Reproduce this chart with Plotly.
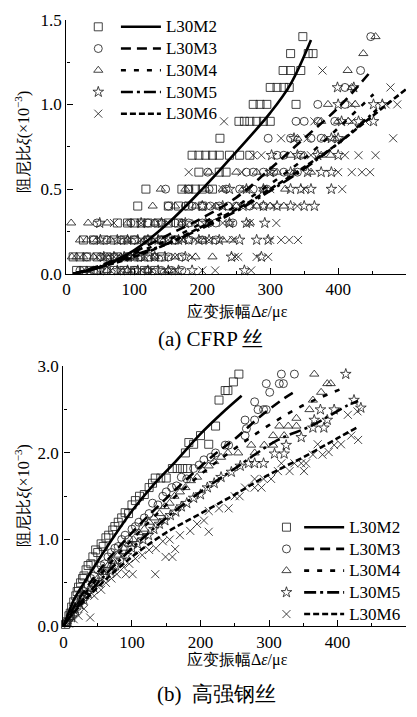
import plotly.graph_objects as go

# ---------------- data: (a) CFRP wire ----------------
top_m2 = [(15,0.02),(25,0.02),(35,0.02),(45,0.02),(55,0.02),(70,0.02),(85,0.02),(100,0.02),(115,0.02),(130,0.02),
          (10,0.1),(20,0.1),(30,0.1),(45,0.1),(60,0.1),(75,0.1),(90,0.1),(105,0.1),(120,0.1),(140,0.1),
          (25,0.2),(40,0.2),(55,0.2),(70,0.2),(85,0.2),(100,0.2),(120,0.2),(140,0.2),(160,0.2),
          (75,0.3),(90,0.3),(100,0.3),(110,0.3),(120,0.3),(135,0.3),(150,0.3),(165,0.3),
          (105,0.4),(150,0.4),(165,0.4),(180,0.4),(200,0.4),
          (117,0.5),(170,0.5),(180,0.5),(190,0.5),(200,0.5),(215,0.5),
          (195,0.6),(225,0.6),(235,0.6),
          (185,0.7),(195,0.7),(205,0.7),(215,0.7),(225,0.7),(240,0.7),(255,0.7),(270,0.7),
          (226,0.8),
          (254,0.9),(262,0.9),(270,0.9),(280,0.9),(290,0.9),(300,0.9),
          (275,1.0),(285,1.0),(295,1.0),(338,1.0),
          (300,1.1),(310,1.1),(320,1.1),(328,1.1),
          (319,1.2),(330,1.2),(345,1.2),
          (330,1.3),(356,1.3),(363,1.3),
          (348,1.4)]
top_m3 = [(20,0.02),(40,0.02),(60,0.02),(80,0.02),(100,0.02),(120,0.02),(140,0.02),(155,0.02),(170,0.02),
          (30,0.1),(50,0.1),(70,0.1),(90,0.1),(110,0.1),(130,0.1),(150,0.1),(170,0.1),
          (40,0.2),(60,0.2),(80,0.2),(100,0.2),(120,0.2),(140,0.2),(160,0.2),(180,0.2),(200,0.2),(220,0.2),
          (45,0.3),(95,0.3),(120,0.3),(130,0.3),(140,0.3),(160,0.3),(170,0.3),(180,0.3),(200,0.3),(210,0.3),
          (220,0.3),(245,0.3),
          (150,0.4),(175,0.4),(185,0.4),(200,0.4),(212,0.4),(225,0.4),(238,0.4),(250,0.4),(270,0.4),(290,0.4),
          (146,0.5),(180,0.5),(210,0.5),(235,0.5),(255,0.5),(275,0.5),(295,0.5),
          (208,0.6),(265,0.6),(275,0.6),(290,0.6),(305,0.6),(320,0.6),(340,0.6),
          (310,0.7),(320,0.7),(345,0.7),
          (297,0.8),(330,0.8),(360,0.8),(375,0.8),
          (338,0.9),(350,0.9),(370,0.9),(395,0.9),
          (370,1.0),(410,1.0),(410,1.1),(433,1.2),(448,1.4)]
top_m4 = [(30,0.02),(60,0.02),(90,0.02),(120,0.02),(150,0.02),
          (8,0.1),(15,0.1),(25,0.1),(40,0.1),(60,0.1),(80,0.1),(100,0.1),(130,0.1),(160,0.1),(190,0.1),(215,0.1),
          (20,0.2),(30,0.2),(45,0.2),(65,0.2),(90,0.2),(115,0.2),(140,0.2),(170,0.2),(200,0.2),(230,0.2),(243,0.2),
          (7,0.3),(32,0.3),(60,0.3),(90,0.3),(130,0.3),(170,0.3),(210,0.3),(240,0.3),(270,0.3),
          (127,0.4),(160,0.4),(190,0.4),(220,0.4),(250,0.4),(280,0.4),(300,0.4),(320,0.4),
          (139,0.5),(175,0.5),(205,0.5),(230,0.5),(260,0.5),(290,0.5),(322,0.5),
          (210,0.6),(250,0.6),(280,0.6),(310,0.6),(335,0.6),(360,0.6),
          (330,0.7),(350,0.7),(375,0.7),(389,0.7),
          (340,0.8),(380,0.8),(395,0.8),
          (375,0.9),(400,0.9),(415,0.9),
          (385,1.0),(425,1.0),(420,1.1),(414,1.2),(437,1.3),(455,1.4)]
top_m5 = [(50,0.02),(75,0.02),(90,0.02),(105,0.02),(120,0.02),(135,0.02),(150,0.02),(165,0.02),(185,0.02),(262,0.02),
          (55,0.1),(70,0.1),(85,0.1),(100,0.1),(115,0.1),(130,0.1),(145,0.1),(175,0.1),(243,0.1),(287,0.1),
          (50,0.2),(75,0.2),(90,0.2),(105,0.2),(120,0.2),(135,0.2),(150,0.2),(165,0.2),(180,0.2),(195,0.2),
          (210,0.2),(225,0.2),(255,0.2),(280,0.2),(297,0.2),
          (49,0.3),(110,0.3),(140,0.3),(175,0.3),(205,0.3),(240,0.3),(265,0.3),(292,0.3),
          (200,0.4),(230,0.4),(260,0.4),(290,0.4),(310,0.4),(330,0.4),(350,0.4),(365,0.4),
          (240,0.5),(265,0.5),(290,0.5),(330,0.5),(345,0.5),(360,0.5),(390,0.5),
          (300,0.6),(330,0.6),(355,0.6),(375,0.6),(390,0.6),
          (302,0.7),(340,0.7),(370,0.7),(400,0.7),
          (335,0.8),(390,0.8),(400,0.8),
          (405,0.9),(430,0.9),(452,0.9),
          (400,1.0),(452,1.0),(465,1.0),(399,1.1),(423,1.1)]
top_m6 = [(35,0.02),(65,0.02),(80,0.02),(95,0.02),(110,0.02),(125,0.02),(145,0.02),(160,0.02),(200,0.02),(219,0.02),(272,0.02),
          (45,0.1),(58,0.1),(70,0.1),(85,0.1),(100,0.1),(115,0.1),(130,0.1),(160,0.1),(185,0.1),(248,0.1),(253,0.1),
          (280,0.1),(297,0.1),
          (90,0.2),(110,0.2),(130,0.2),(150,0.2),(170,0.2),(190,0.2),(210,0.2),(245,0.2),(300,0.2),(316,0.2),(328,0.2),(341,0.2),
          (70,0.3),(110,0.3),(150,0.3),(190,0.3),(230,0.3),(270,0.3),(309,0.3),
          (215,0.4),(245,0.4),(275,0.4),(305,0.4),(340,0.4),
          (230,0.5),(270,0.5),(300,0.5),(350,0.5),(406,0.5),
          (180,0.6),(258,0.6),(300,0.6),(400,0.6),(420,0.6),(435,0.6),(447,0.6),
          (275,0.7),(287,0.7),(360,0.7),(410,0.7),(430,0.7),(455,0.7),
          (316,0.8),(355,0.8),(481,0.8),
          (232,0.9),(365,0.9),(420,0.9),(440,0.9),
          (420,1.0),(470,1.0),(487,1.0),(477,1.1),(377,1.2)]

top_fit_m2_x = [10, 50, 100, 150, 200, 250, 300, 330, 360]
top_fit_m2_y = [0.0, 0.04, 0.14, 0.30, 0.50, 0.72, 0.95, 1.12, 1.38]
top_fit_m3_x = [10, 50, 100, 150, 200, 250, 300, 350, 400, 447]
top_fit_m3_y = [0.0, 0.05, 0.13, 0.23, 0.33, 0.45, 0.62, 0.80, 0.98, 1.19]
top_fit_m4_x = [10, 50, 100, 150, 200, 250, 300, 350, 400, 452]
top_fit_m4_y = [0.0, 0.04, 0.12, 0.20, 0.30, 0.40, 0.53, 0.68, 0.86, 1.06]
top_fit_m5_x = [10, 50, 100, 150, 200, 250, 300, 350, 400, 457]
top_fit_m5_y = [0.0, 0.04, 0.11, 0.18, 0.27, 0.37, 0.49, 0.62, 0.77, 0.97]
top_fit_m6_x = [10, 50, 100, 150, 200, 250, 300, 350, 400, 450, 500]
top_fit_m6_y = [0.0, 0.04, 0.10, 0.18, 0.28, 0.38, 0.50, 0.63, 0.77, 0.93, 1.09]

# ---------------- data: (b) high-strength steel wire ----------------
bot_m2 = [(3,0.02),(5,0.05),(8,0.12),(10,0.15),(12,0.22),(15,0.28),(18,0.35),(20,0.4),(22,0.45),(25,0.5),
          (28,0.55),(30,0.58),(33,0.65),(36,0.7),(40,0.72),(43,0.8),(47,0.88),(50,0.85),(55,0.95),(58,0.92),
          (62,1.02),(66,1.05),(72,1.11),(75,1.15),(80,1.2),(85,1.25),(90,1.31),(95,1.3),(100,1.4),(105,1.45),
          (111,1.5),(118,1.52),(125,1.6),(130,1.65),(134,1.71),(142,1.71),(150,1.71),(159,1.82),(166,1.82),
          (174,1.82),(181,1.82),(178,2.0),(183,2.12),(190,2.1),(200,2.2),(212,2.1),(222,2.31),(227,2.61),
          (236,2.72),(240,2.72),(248,2.82),(256,2.91)]
bot_m3 = [(5,0.05),(10,0.12),(15,0.2),(20,0.3),(25,0.35),(30,0.4),(35,0.48),(40,0.55),(45,0.58),(50,0.65),
          (55,0.7),(60,0.72),(65,0.8),(70,0.85),(75,0.9),(80,0.92),(85,1.0),(90,1.05),(95,1.0),(100,1.12),
          (105,1.15),(110,1.2),(118,1.25),(125,1.3),(130,1.42),(138,1.4),(145,1.5),(150,1.55),(158,1.6),
          (165,1.62),(172,1.72),(180,1.7),(190,1.82),(198,1.86),(205,1.92),(215,1.95),(222,2.0),(236,2.09),
          (241,2.09),(265,2.2),(267,2.28),(265,2.38),(279,2.38),(279,2.59),(284,2.5),(292,2.5),(296,2.5),
          (301,2.7),(296,2.8),(315,2.8),(321,2.8),(318,2.91),(337,2.91)]
bot_m4 = [(5,0.05),(10,0.1),(15,0.18),(20,0.25),(28,0.32),(35,0.4),(42,0.48),(50,0.55),(58,0.62),(65,0.7),
          (72,0.75),(80,0.82),(88,0.9),(95,0.95),(102,1.0),(110,1.08),(118,1.12),(125,1.2),(132,1.25),
          (140,1.3),(148,1.38),(155,1.42),(162,1.5),(170,1.55),(178,1.6),(186,1.68),(195,1.72),(203,1.8),
          (212,1.85),(220,1.9),(230,1.95),(240,2.0),(255,2.0),(274,2.09),(279,2.0),(293,2.09),(306,2.09),
          (306,2.2),(322,2.2),(315,2.31),(328,2.31),(340,2.31),(340,2.4),(359,2.5),(364,2.61),(376,2.7),
          (385,2.8),(390,2.8),(366,2.91)]
bot_m5 = [(6,0.04),(12,0.1),(18,0.18),(24,0.25),(30,0.3),(36,0.38),(44,0.45),(52,0.5),(60,0.58),(68,0.64),
          (76,0.7),(84,0.76),(92,0.82),(100,0.9),(108,0.95),(116,1.0),(124,1.05),(132,1.12),(140,1.18),
          (148,1.22),(156,1.28),(164,1.32),(172,1.38),(180,1.42),(190,1.48),(200,1.52),(210,1.6),(220,1.65),
          (230,1.72),(245,1.78),(258,1.85),(270,1.88),(279,1.88),(292,1.88),(308,1.99),(322,1.99),(325,2.09),
          (347,2.18),(364,2.29),(380,2.29),(366,2.38),(385,2.38),(375,2.5),(395,2.5),(424,2.61),(434,2.52),
          (412,2.91)]
bot_m6 = [(8,0.03),(15,0.08),(22,0.12),(30,0.2),(39,0.1),(45,0.35),(55,0.42),(62,0.5),(70,0.55),(78,0.6),
          (91,0.6),(101,0.6),(88,0.68),(96,0.72),(105,0.78),(115,0.82),(125,0.88),(134,0.6),(135,0.9),
          (149,0.8),(159,0.8),(163,0.89),(145,0.98),(155,1.0),(170,1.05),(185,1.1),(195,1.18),(205,1.22),
          (212,1.09),(212,1.33),(227,1.36),(241,1.36),(250,1.5),(257,1.5),(265,1.6),(279,1.6),(289,1.6),
          (279,1.7),(292,1.7),(303,1.7),(313,1.79),(330,1.79),(351,1.79),(318,1.88),(337,1.88),(347,1.88),
          (354,1.88),(364,1.98),(378,1.98),(371,2.1),(387,2.01),(395,2.09),(405,2.1),(420,2.2),(430,2.15),
          (415,2.44),(429,2.48)]

bot_fit_m2_x = [0, 5, 15, 30, 50, 75, 100, 130, 160, 200, 230, 260]
bot_fit_m2_y = [0.0, 0.1, 0.3, 0.5, 0.75, 1.05, 1.33, 1.62, 1.87, 2.22, 2.45, 2.66]
bot_fit_m3_x = [0, 5, 20, 50, 100, 160, 217, 250, 284, 322, 340]
bot_fit_m3_y = [0.0, 0.08, 0.28, 0.62, 1.08, 1.55, 1.96, 2.16, 2.40, 2.63, 2.72]
bot_fit_m4_x = [0, 5, 20, 50, 100, 150, 200, 250, 300, 350, 409]
bot_fit_m4_y = [0.0, 0.07, 0.25, 0.56, 1.0, 1.40, 1.75, 2.05, 2.32, 2.55, 2.75]
bot_fit_m5_x = [0, 5, 20, 50, 100, 150, 200, 250, 313, 361, 415, 430]
bot_fit_m5_y = [0.0, 0.06, 0.22, 0.50, 0.90, 1.25, 1.55, 1.82, 2.15, 2.31, 2.55, 2.60]
bot_fit_m6_x = [0, 5, 20, 50, 100, 150, 200, 250, 300, 350, 400, 430]
bot_fit_m6_y = [0.0, 0.06, 0.20, 0.45, 0.80, 1.08, 1.30, 1.52, 1.75, 1.95, 2.17, 2.30]

names = ["L30M2", "L30M3", "L30M4", "L30M5", "L30M6"]
symbols = ["square-open", "circle-open", "triangle-up-open", "star-open", "x-thin-open"]
dashes = ["solid", "10px,6px", "5px,8px", "12px,4px,3px,4px", "6px,3px"]

x_ticks = [0, 100, 200, 300, 400, 500]

SERIF = "Liberation Serif"
MK = "#222222"

fig = go.Figure()

panels = [
    (["x", "y"], [top_m2, top_m3, top_m4, top_m5, top_m6],
     [(top_fit_m2_x, top_fit_m2_y), (top_fit_m3_x, top_fit_m3_y), (top_fit_m4_x, top_fit_m4_y),
      (top_fit_m5_x, top_fit_m5_y), (top_fit_m6_x, top_fit_m6_y)], "legend", "legend2"),
    (["x2", "y2"], [bot_m2, bot_m3, bot_m4, bot_m5, bot_m6],
     [(bot_fit_m2_x, bot_fit_m2_y), (bot_fit_m3_x, bot_fit_m3_y), (bot_fit_m4_x, bot_fit_m4_y),
      (bot_fit_m5_x, bot_fit_m5_y), (bot_fit_m6_x, bot_fit_m6_y)], "legend3", "legend4"),
]

for (xa, ya), scat, fits, lg_m, lg_l in panels:
    for i in range(5):
        pts = scat[i]
        fig.add_trace(go.Scatter(
            x=[p[0] for p in pts], y=[p[1] for p in pts], mode="markers",
            xaxis=xa, yaxis=ya, name=" ", legend=lg_m, cliponaxis=False,
            marker=dict(symbol=symbols[i], size=8, color=MK, line=dict(color=MK, width=0.85)),
        ))
    for i in range(5):
        fx, fy = fits[i]
        fig.add_trace(go.Scatter(
            x=fx, y=fy, mode="lines", xaxis=xa, yaxis=ya,
            name="<span style='font-size:17px'>" + names[i] + "</span>", legend=lg_l,
            line=dict(color="black", width=2.6, dash=dashes[i], shape="spline"),
        ))

axis_common = dict(
    showline=True, linecolor="black", linewidth=1.4, ticks="inside", ticklen=6, tickwidth=1.2,
    tickcolor="black", showgrid=False, zeroline=False, mirror=False,
    tickfont=dict(family=SERIF, size=17, color="black"),
)

fig.update_layout(
    width=417, height=717, margin=dict(l=0, r=0, t=0, b=0),
    paper_bgcolor="white", plot_bgcolor="white", showlegend=True,
    font=dict(family=SERIF, color="black"),
    xaxis=dict(domain=[0.1511, 0.9736], range=[0, 500], anchor="y", tickvals=x_ticks,
               minor=dict(ticks="inside", dtick=50, ticklen=3, tickcolor="black"), **axis_common),
    yaxis=dict(domain=[0.6206, 0.9847], range=[0, 1.5], anchor="x", dtick=0.5, tickformat=".1f",
               minor=dict(ticks="inside", dtick=0.25, ticklen=3, tickcolor="black"), **axis_common),
    xaxis2=dict(domain=[0.1439, 0.9736], range=[0, 500], anchor="y2", tickvals=x_ticks,
                minor=dict(ticks="inside", dtick=50, ticklen=3, tickcolor="black"), **axis_common),
    yaxis2=dict(domain=[0.1158, 0.4881], range=[0, 3.0], anchor="x2", dtick=1.0, tickformat=".1f",
                minor=dict(ticks="inside", dtick=0.5, ticklen=3, tickcolor="black"), **axis_common),
)

leg_common = dict(bgcolor="rgba(0,0,0,0)", borderwidth=0, font=dict(family=SERIF, size=14.4, color="black"),
                  xanchor="left", yanchor="top", tracegroupgap=0, itemclick=False)
fig.update_layout(
    legend=dict(x=75 / 417, y=1 - 2 / 717, **leg_common),
    legend2=dict(x=113 / 417, y=1 - 2 / 717, itemwidth=40, **leg_common),
    legend3=dict(x=265 / 417, y=1 - 516 / 717, **leg_common),
    legend4=dict(x=298 / 417, y=1 - 516 / 717, itemwidth=40, **leg_common),
)

ylab = "阻尼比<i>ξ</i>(×10<sup>−3</sup>)"
xlab = "应变振幅Δ<i>ε</i>/με"
ann_font = dict(family=SERIF, size=16, color="black")
fig.update_layout(annotations=[
    dict(text=ylab, x=19 / 417, y=1 - 137 / 717, xref="paper", yref="paper", textangle=-90,
         showarrow=False, font=ann_font, xanchor="center", yanchor="middle"),
    dict(text=xlab, x=236 / 417, y=1 - 311 / 717, xref="paper", yref="paper",
         showarrow=False, font=ann_font, xanchor="center", yanchor="middle"),
    dict(text="(a) CFRP 丝", x=209 / 417, y=1 - 339 / 717, xref="paper", yref="paper",
         showarrow=False, font=dict(family=SERIF, size=21, color="black"), xanchor="center", yanchor="middle"),
    dict(text=ylab, x=19 / 417, y=1 - 500 / 717, xref="paper", yref="paper", textangle=-90,
         showarrow=False, font=ann_font, xanchor="center", yanchor="middle"),
    dict(text=xlab, x=236 / 417, y=1 - 669 / 717, xref="paper", yref="paper",
         showarrow=False, font=ann_font, xanchor="center", yanchor="middle"),
    dict(text="(b)  高强钢丝", x=215 / 417, y=1 - 704 / 717, xref="paper", yref="paper",
         showarrow=False, font=dict(family=SERIF, size=21, color="black"), xanchor="center", yanchor="middle"),
])

fig.write_html("out.html")
